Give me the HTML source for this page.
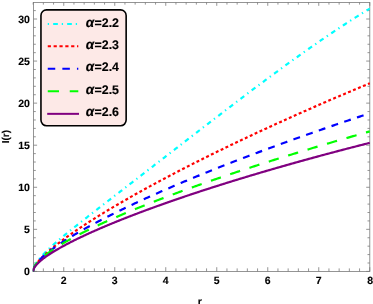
<!DOCTYPE html>
<html><head><meta charset="utf-8"><title>plot</title>
<style>
html,body{margin:0;padding:0;background:#fff;}
body{width:373px;height:304px;overflow:hidden;}
svg{display:block;filter:grayscale(0);}
text{font-family:"Liberation Sans",sans-serif;font-weight:bold;fill:#000;text-rendering:geometricPrecision;}
</style></head><body>
<svg width="373" height="304" viewBox="0 0 373 304">
<rect x="0" y="0" width="373" height="304" fill="#fff"/>
<defs><clipPath id="c"><rect x="32.8" y="2.4" width="337.5" height="269.90000000000003"/></clipPath></defs>
<g stroke="#7a7a7a" stroke-width="0.8" fill="none">
<rect x="33.5" y="2.4" width="336.3" height="269.1"/>
<path d="M33.15,271.5v-3.1M33.15,2.4v2.2M43.35,271.5v-3.1M43.35,2.4v2.2M53.55,271.5v-3.1M53.55,2.4v2.2M63.75,271.5v-4.3M63.75,2.4v3.4M73.95,271.5v-3.1M73.95,2.4v2.2M84.15,271.5v-3.1M84.15,2.4v2.2M94.35,271.5v-3.1M94.35,2.4v2.2M104.55,271.5v-3.1M104.55,2.4v2.2M114.75,271.5v-4.3M114.75,2.4v3.4M124.95,271.5v-3.1M124.95,2.4v2.2M135.15,271.5v-3.1M135.15,2.4v2.2M145.35,271.5v-3.1M145.35,2.4v2.2M155.55,271.5v-3.1M155.55,2.4v2.2M165.75,271.5v-4.3M165.75,2.4v3.4M175.95,271.5v-3.1M175.95,2.4v2.2M186.15,271.5v-3.1M186.15,2.4v2.2M196.35,271.5v-3.1M196.35,2.4v2.2M206.55,271.5v-3.1M206.55,2.4v2.2M216.75,271.5v-4.3M216.75,2.4v3.4M226.95,271.5v-3.1M226.95,2.4v2.2M237.15,271.5v-3.1M237.15,2.4v2.2M247.35,271.5v-3.1M247.35,2.4v2.2M257.55,271.5v-3.1M257.55,2.4v2.2M267.75,271.5v-4.3M267.75,2.4v3.4M277.95,271.5v-3.1M277.95,2.4v2.2M288.15,271.5v-3.1M288.15,2.4v2.2M298.35,271.5v-3.1M298.35,2.4v2.2M308.55,271.5v-3.1M308.55,2.4v2.2M318.75,271.5v-4.3M318.75,2.4v3.4M328.95,271.5v-3.1M328.95,2.4v2.2M339.15,271.5v-3.1M339.15,2.4v2.2M349.35,271.5v-3.1M349.35,2.4v2.2M359.55,271.5v-3.1M359.55,2.4v2.2M369.75,271.5v-4.3M369.75,2.4v3.4M33.5,271.40h3.6M369.8,271.40h-3.6M33.5,262.99h2.3M369.8,262.99h-2.3M33.5,254.57h2.3M369.8,254.57h-2.3M33.5,246.16h2.3M369.8,246.16h-2.3M33.5,237.75h2.3M369.8,237.75h-2.3M33.5,229.33h3.6M369.8,229.33h-3.6M33.5,220.92h2.3M369.8,220.92h-2.3M33.5,212.51h2.3M369.8,212.51h-2.3M33.5,204.10h2.3M369.8,204.10h-2.3M33.5,195.68h2.3M369.8,195.68h-2.3M33.5,187.27h3.6M369.8,187.27h-3.6M33.5,178.86h2.3M369.8,178.86h-2.3M33.5,170.44h2.3M369.8,170.44h-2.3M33.5,162.03h2.3M369.8,162.03h-2.3M33.5,153.62h2.3M369.8,153.62h-2.3M33.5,145.20h3.6M369.8,145.20h-3.6M33.5,136.79h2.3M369.8,136.79h-2.3M33.5,128.38h2.3M369.8,128.38h-2.3M33.5,119.97h2.3M369.8,119.97h-2.3M33.5,111.55h2.3M369.8,111.55h-2.3M33.5,103.14h3.6M369.8,103.14h-3.6M33.5,94.73h2.3M369.8,94.73h-2.3M33.5,86.31h2.3M369.8,86.31h-2.3M33.5,77.90h2.3M369.8,77.90h-2.3M33.5,69.49h2.3M369.8,69.49h-2.3M33.5,61.07h3.6M369.8,61.07h-3.6M33.5,52.66h2.3M369.8,52.66h-2.3M33.5,44.25h2.3M369.8,44.25h-2.3M33.5,35.84h2.3M369.8,35.84h-2.3M33.5,27.42h2.3M369.8,27.42h-2.3M33.5,19.01h3.6M369.8,19.01h-3.6M33.5,10.60h2.3M369.8,10.60h-2.3"/>
</g>
<g clip-path="url(#c)" fill="none" stroke-width="2.2" stroke-linejoin="round">
<path d="M33.15,271.40 L33.15,271.22 L33.16,271.03 L33.17,270.84 L33.18,270.66 L33.20,270.47 L33.23,270.27 L33.25,270.08 L33.28,269.88 L33.32,269.69 L33.36,269.49 L33.40,269.29 L33.45,269.08 L33.51,268.88 L33.56,268.67 L33.62,268.47 L33.69,268.26 L33.76,268.05 L33.83,267.83 L33.91,267.62 L33.99,267.40 L34.08,267.18 L34.17,266.96 L34.26,266.74 L34.36,266.52 L34.46,266.29 L34.57,266.07 L34.68,265.84 L34.80,265.61 L34.92,265.38 L35.04,265.14 L35.17,264.91 L35.30,264.67 L35.44,264.43 L35.58,264.19 L35.73,263.95 L35.88,263.70 L36.03,263.46 L36.19,263.21 L36.35,262.96 L36.52,262.71 L36.69,262.45 L36.86,262.20 L37.04,261.94 L37.22,261.68 L37.41,261.42 L37.60,261.16 L37.80,260.89 L38.00,260.63 L38.20,260.36 L38.41,260.09 L38.62,259.82 L38.84,259.54 L39.06,259.27 L39.28,258.99 L39.51,258.71 L39.75,258.43 L39.99,258.14 L40.23,257.86 L40.47,257.57 L40.72,257.28 L40.98,256.99 L41.24,256.70 L41.50,256.40 L41.77,256.11 L42.04,255.81 L42.31,255.51 L42.59,255.21 L42.88,254.90 L43.17,254.59 L43.46,254.29 L43.76,253.98 L44.06,253.66 L44.36,253.35 L44.67,253.03 L44.98,252.71 L45.30,252.39 L45.62,252.07 L45.95,251.75 L46.28,251.42 L46.61,251.09 L46.95,250.76 L47.30,250.43 L47.64,250.09 L47.99,249.75 L48.35,249.41 L48.71,249.07 L49.07,248.73 L49.44,248.38 L49.81,248.04 L50.19,247.69 L50.57,247.33 L50.96,246.98 L51.35,246.62 L51.74,246.27 L52.14,245.90 L52.54,245.54 L52.94,245.18 L53.35,244.81 L53.77,244.44 L54.19,244.07 L54.61,243.69 L55.04,243.32 L55.47,242.94 L55.90,242.56 L56.34,242.17 L56.79,241.79 L57.24,241.40 L57.69,241.01 L58.14,240.62 L58.61,240.22 L59.07,239.83 L59.54,239.43 L60.01,239.02 L60.49,238.62 L60.97,238.21 L61.46,237.80 L61.95,237.39 L62.44,236.98 L62.94,236.56 L63.44,236.14 L63.95,235.72 L64.46,235.30 L64.98,234.87 L65.50,234.44 L66.02,234.01 L66.55,233.58 L67.08,233.14 L67.62,232.70 L68.16,232.26 L68.70,231.82 L69.25,231.37 L69.81,230.92 L70.36,230.47 L70.92,230.02 L71.49,229.56 L72.06,229.10 L72.64,228.64 L73.21,228.17 L73.80,227.71 L74.38,227.24 L74.97,226.76 L75.57,226.29 L76.17,225.81 L76.77,225.33 L77.38,224.85 L77.99,224.36 L78.61,223.87 L79.23,223.38 L79.86,222.89 L80.48,222.39 L81.12,221.89 L81.76,221.39 L82.40,220.88 L83.04,220.37 L83.69,219.86 L84.35,219.35 L85.01,218.83 L85.67,218.31 L86.33,217.79 L87.01,217.27 L87.68,216.74 L88.36,216.21 L89.04,215.67 L89.73,215.14 L90.42,214.60 L91.12,214.05 L91.82,213.51 L92.53,212.96 L93.24,212.41 L93.95,211.85 L94.67,211.30 L95.39,210.74 L96.11,210.17 L96.84,209.61 L97.58,209.04 L98.32,208.47 L99.06,207.89 L99.81,207.31 L100.56,206.73 L101.31,206.15 L102.07,205.56 L102.83,204.97 L103.60,204.38 L104.37,203.78 L105.15,203.18 L105.93,202.58 L106.72,201.97 L107.50,201.36 L108.30,200.75 L109.10,200.13 L109.90,199.52 L110.70,198.89 L111.51,198.27 L112.33,197.64 L113.15,197.01 L113.97,196.38 L114.79,195.74 L115.63,195.10 L116.46,194.45 L117.30,193.81 L118.14,193.16 L118.99,192.50 L119.84,191.85 L120.70,191.19 L121.56,190.52 L122.42,189.86 L123.29,189.19 L124.17,188.51 L125.04,187.84 L125.93,187.16 L126.81,186.48 L127.70,185.79 L128.60,185.10 L129.49,184.41 L130.40,183.71 L131.30,183.01 L132.21,182.31 L133.13,181.60 L134.05,180.90 L134.97,180.18 L135.90,179.47 L136.83,178.75 L137.77,178.03 L138.71,177.30 L139.65,176.57 L140.60,175.84 L141.55,175.10 L142.51,174.37 L143.47,173.62 L144.44,172.88 L145.41,172.13 L146.38,171.38 L147.36,170.62 L148.34,169.86 L149.33,169.10 L150.32,168.34 L151.32,167.57 L152.31,166.79 L153.32,166.02 L154.33,165.24 L155.34,164.46 L156.35,163.67 L157.37,162.88 L158.40,162.09 L159.43,161.30 L160.46,160.50 L161.50,159.70 L162.54,158.89 L163.58,158.08 L164.63,157.27 L165.69,156.45 L166.75,155.64 L167.81,154.81 L168.88,153.99 L169.95,153.16 L171.02,152.33 L172.10,151.49 L173.18,150.66 L174.27,149.81 L175.36,148.97 L176.46,148.12 L177.56,147.27 L178.66,146.42 L179.77,145.56 L180.89,144.70 L182.00,143.83 L183.12,142.97 L184.25,142.10 L185.38,141.22 L186.51,140.35 L187.65,139.47 L188.79,138.58 L189.94,137.70 L191.09,136.81 L192.25,135.91 L193.41,135.02 L194.57,134.12 L195.74,133.22 L196.91,132.31 L198.08,131.41 L199.26,130.50 L200.45,129.58 L201.64,128.66 L202.83,127.74 L204.03,126.82 L205.23,125.90 L206.43,124.97 L207.64,124.04 L208.86,123.10 L210.08,122.16 L211.30,121.22 L212.52,120.28 L213.75,119.33 L214.99,118.38 L216.23,117.43 L217.47,116.48 L218.72,115.52 L219.97,114.56 L221.23,113.60 L222.49,112.63 L223.75,111.66 L225.02,110.69 L226.29,109.72 L227.57,108.74 L228.85,107.77 L230.14,106.78 L231.43,105.80 L232.72,104.81 L234.02,103.83 L235.32,102.84 L236.63,101.84 L237.94,100.85 L239.25,99.85 L240.57,98.85 L241.89,97.84 L243.22,96.84 L244.55,95.83 L245.89,94.82 L247.23,93.81 L248.57,92.80 L249.92,91.78 L251.28,90.76 L252.63,89.74 L253.99,88.72 L255.36,87.69 L256.73,86.67 L258.10,85.64 L259.48,84.61 L260.86,83.58 L262.25,82.54 L263.64,81.51 L265.03,80.47 L266.43,79.43 L267.84,78.39 L269.24,77.35 L270.65,76.30 L272.07,75.26 L273.49,74.21 L274.92,73.16 L276.34,72.11 L277.78,71.06 L279.21,70.01 L280.65,68.96 L282.10,67.90 L283.55,66.84 L285.00,65.79 L286.46,64.73 L287.92,63.67 L289.39,62.61 L290.86,61.55 L292.33,60.48 L293.81,59.42 L295.30,58.36 L296.78,57.29 L298.28,56.23 L299.77,55.16 L301.27,54.09 L302.78,53.03 L304.28,51.96 L305.80,50.89 L307.31,49.82 L308.83,48.75 L310.36,47.69 L311.89,46.62 L313.42,45.55 L314.96,44.48 L316.50,43.41 L318.05,42.34 L319.60,41.27 L321.15,40.20 L322.71,39.13 L324.28,38.06 L325.84,37.00 L327.41,35.93 L328.99,34.86 L330.57,33.79 L332.15,32.73 L333.74,31.66 L335.33,30.60 L336.93,29.54 L338.53,28.47 L340.14,27.41 L341.75,26.35 L343.36,25.29 L344.98,24.23 L346.60,23.18 L348.23,22.12 L349.86,21.07 L351.49,20.02 L353.13,18.97 L354.77,17.92 L356.42,16.87 L358.07,15.82 L359.73,14.78 L361.39,13.74 L363.05,12.70 L364.72,11.66 L366.39,10.63 L368.07,9.60 L369.75,8.57" stroke="#00ffff" stroke-dasharray="1.3 4.1 4.7 3.9" stroke-dashoffset="0"/>
<path d="M33.15,271.40 L33.15,271.25 L33.16,271.09 L33.17,270.94 L33.18,270.78 L33.20,270.62 L33.23,270.46 L33.25,270.29 L33.28,270.12 L33.32,269.96 L33.36,269.79 L33.40,269.61 L33.45,269.44 L33.51,269.26 L33.56,269.08 L33.62,268.90 L33.69,268.72 L33.76,268.53 L33.83,268.35 L33.91,268.16 L33.99,267.97 L34.08,267.78 L34.17,267.58 L34.26,267.38 L34.36,267.19 L34.46,266.99 L34.57,266.78 L34.68,266.58 L34.80,266.37 L34.92,266.16 L35.04,265.95 L35.17,265.74 L35.30,265.53 L35.44,265.31 L35.58,265.09 L35.73,264.87 L35.88,264.65 L36.03,264.43 L36.19,264.20 L36.35,263.97 L36.52,263.75 L36.69,263.51 L36.86,263.28 L37.04,263.04 L37.22,262.81 L37.41,262.57 L37.60,262.33 L37.80,262.08 L38.00,261.84 L38.20,261.59 L38.41,261.34 L38.62,261.09 L38.84,260.84 L39.06,260.59 L39.28,260.33 L39.51,260.07 L39.75,259.81 L39.99,259.55 L40.23,259.29 L40.47,259.02 L40.72,258.76 L40.98,258.49 L41.24,258.22 L41.50,257.94 L41.77,257.67 L42.04,257.39 L42.31,257.11 L42.59,256.83 L42.88,256.55 L43.17,256.27 L43.46,255.98 L43.76,255.70 L44.06,255.41 L44.36,255.12 L44.67,254.82 L44.98,254.53 L45.30,254.23 L45.62,253.93 L45.95,253.63 L46.28,253.33 L46.61,253.03 L46.95,252.72 L47.30,252.42 L47.64,252.11 L47.99,251.80 L48.35,251.49 L48.71,251.17 L49.07,250.86 L49.44,250.54 L49.81,250.22 L50.19,249.90 L50.57,249.58 L50.96,249.25 L51.35,248.92 L51.74,248.60 L52.14,248.27 L52.54,247.94 L52.94,247.60 L53.35,247.27 L53.77,246.93 L54.19,246.59 L54.61,246.25 L55.04,245.91 L55.47,245.57 L55.90,245.22 L56.34,244.88 L56.79,244.53 L57.24,244.18 L57.69,243.82 L58.14,243.47 L58.61,243.12 L59.07,242.76 L59.54,242.40 L60.01,242.04 L60.49,241.68 L60.97,241.31 L61.46,240.95 L61.95,240.58 L62.44,240.21 L62.94,239.84 L63.44,239.47 L63.95,239.10 L64.46,238.72 L64.98,238.35 L65.50,237.97 L66.02,237.59 L66.55,237.21 L67.08,236.82 L67.62,236.44 L68.16,236.05 L68.70,235.66 L69.25,235.27 L69.81,234.88 L70.36,234.49 L70.92,234.10 L71.49,233.70 L72.06,233.30 L72.64,232.90 L73.21,232.50 L73.80,232.10 L74.38,231.70 L74.97,231.29 L75.57,230.88 L76.17,230.47 L76.77,230.06 L77.38,229.65 L77.99,229.24 L78.61,228.82 L79.23,228.41 L79.86,227.99 L80.48,227.57 L81.12,227.15 L81.76,226.73 L82.40,226.30 L83.04,225.88 L83.69,225.45 L84.35,225.02 L85.01,224.59 L85.67,224.16 L86.33,223.73 L87.01,223.29 L87.68,222.85 L88.36,222.42 L89.04,221.98 L89.73,221.54 L90.42,221.09 L91.12,220.65 L91.82,220.21 L92.53,219.76 L93.24,219.31 L93.95,218.86 L94.67,218.41 L95.39,217.96 L96.11,217.50 L96.84,217.05 L97.58,216.59 L98.32,216.13 L99.06,215.67 L99.81,215.21 L100.56,214.75 L101.31,214.28 L102.07,213.82 L102.83,213.35 L103.60,212.88 L104.37,212.41 L105.15,211.94 L105.93,211.47 L106.72,210.99 L107.50,210.52 L108.30,210.04 L109.10,209.56 L109.90,209.08 L110.70,208.60 L111.51,208.12 L112.33,207.64 L113.15,207.15 L113.97,206.66 L114.79,206.18 L115.63,205.69 L116.46,205.20 L117.30,204.70 L118.14,204.21 L118.99,203.71 L119.84,203.22 L120.70,202.72 L121.56,202.22 L122.42,201.72 L123.29,201.22 L124.17,200.72 L125.04,200.21 L125.93,199.71 L126.81,199.20 L127.70,198.69 L128.60,198.18 L129.49,197.67 L130.40,197.16 L131.30,196.64 L132.21,196.13 L133.13,195.61 L134.05,195.09 L134.97,194.58 L135.90,194.06 L136.83,193.53 L137.77,193.01 L138.71,192.49 L139.65,191.96 L140.60,191.43 L141.55,190.91 L142.51,190.38 L143.47,189.85 L144.44,189.32 L145.41,188.78 L146.38,188.25 L147.36,187.71 L148.34,187.18 L149.33,186.64 L150.32,186.10 L151.32,185.56 L152.31,185.02 L153.32,184.47 L154.33,183.93 L155.34,183.38 L156.35,182.84 L157.37,182.29 L158.40,181.74 L159.43,181.19 L160.46,180.64 L161.50,180.08 L162.54,179.53 L163.58,178.97 L164.63,178.42 L165.69,177.86 L166.75,177.30 L167.81,176.74 L168.88,176.18 L169.95,175.62 L171.02,175.05 L172.10,174.49 L173.18,173.92 L174.27,173.36 L175.36,172.79 L176.46,172.22 L177.56,171.65 L178.66,171.08 L179.77,170.50 L180.89,169.93 L182.00,169.35 L183.12,168.78 L184.25,168.20 L185.38,167.62 L186.51,167.04 L187.65,166.46 L188.79,165.88 L189.94,165.30 L191.09,164.71 L192.25,164.13 L193.41,163.54 L194.57,162.95 L195.74,162.36 L196.91,161.77 L198.08,161.18 L199.26,160.59 L200.45,160.00 L201.64,159.40 L202.83,158.81 L204.03,158.21 L205.23,157.61 L206.43,157.02 L207.64,156.42 L208.86,155.82 L210.08,155.21 L211.30,154.61 L212.52,154.01 L213.75,153.40 L214.99,152.80 L216.23,152.19 L217.47,151.58 L218.72,150.97 L219.97,150.36 L221.23,149.75 L222.49,149.14 L223.75,148.53 L225.02,147.91 L226.29,147.30 L227.57,146.68 L228.85,146.06 L230.14,145.45 L231.43,144.83 L232.72,144.21 L234.02,143.58 L235.32,142.96 L236.63,142.34 L237.94,141.72 L239.25,141.09 L240.57,140.46 L241.89,139.84 L243.22,139.21 L244.55,138.58 L245.89,137.95 L247.23,137.32 L248.57,136.69 L249.92,136.05 L251.28,135.42 L252.63,134.78 L253.99,134.15 L255.36,133.51 L256.73,132.87 L258.10,132.24 L259.48,131.60 L260.86,130.96 L262.25,130.31 L263.64,129.67 L265.03,129.03 L266.43,128.38 L267.84,127.74 L269.24,127.09 L270.65,126.45 L272.07,125.80 L273.49,125.15 L274.92,124.50 L276.34,123.85 L277.78,123.20 L279.21,122.55 L280.65,121.89 L282.10,121.24 L283.55,120.58 L285.00,119.93 L286.46,119.27 L287.92,118.61 L289.39,117.95 L290.86,117.30 L292.33,116.64 L293.81,115.97 L295.30,115.31 L296.78,114.65 L298.28,113.99 L299.77,113.32 L301.27,112.66 L302.78,111.99 L304.28,111.32 L305.80,110.66 L307.31,109.99 L308.83,109.32 L310.36,108.65 L311.89,107.98 L313.42,107.31 L314.96,106.63 L316.50,105.96 L318.05,105.29 L319.60,104.61 L321.15,103.93 L322.71,103.26 L324.28,102.58 L325.84,101.90 L327.41,101.22 L328.99,100.54 L330.57,99.86 L332.15,99.18 L333.74,98.50 L335.33,97.82 L336.93,97.13 L338.53,96.45 L340.14,95.76 L341.75,95.08 L343.36,94.39 L344.98,93.71 L346.60,93.02 L348.23,92.33 L349.86,91.64 L351.49,90.95 L353.13,90.26 L354.77,89.57 L356.42,88.87 L358.07,88.18 L359.73,87.49 L361.39,86.79 L363.05,86.10 L364.72,85.40 L366.39,84.71 L368.07,84.01 L369.75,83.31" stroke="#ff0000" stroke-dasharray="2.95 2.43" stroke-dashoffset="0"/>
<path d="M33.15,271.40 L33.15,271.23 L33.16,271.07 L33.17,270.90 L33.18,270.73 L33.20,270.56 L33.23,270.39 L33.25,270.21 L33.28,270.04 L33.32,269.86 L33.36,269.68 L33.40,269.50 L33.45,269.32 L33.51,269.14 L33.56,268.95 L33.62,268.76 L33.69,268.58 L33.76,268.39 L33.83,268.20 L33.91,268.01 L33.99,267.81 L34.08,267.62 L34.17,267.42 L34.26,267.22 L34.36,267.02 L34.46,266.82 L34.57,266.62 L34.68,266.42 L34.80,266.21 L34.92,266.00 L35.04,265.80 L35.17,265.59 L35.30,265.38 L35.44,265.16 L35.58,264.95 L35.73,264.74 L35.88,264.52 L36.03,264.30 L36.19,264.08 L36.35,263.86 L36.52,263.64 L36.69,263.41 L36.86,263.19 L37.04,262.96 L37.22,262.74 L37.41,262.51 L37.60,262.28 L37.80,262.04 L38.00,261.81 L38.20,261.58 L38.41,261.34 L38.62,261.10 L38.84,260.86 L39.06,260.62 L39.28,260.38 L39.51,260.14 L39.75,259.89 L39.99,259.65 L40.23,259.40 L40.47,259.15 L40.72,258.90 L40.98,258.65 L41.24,258.40 L41.50,258.15 L41.77,257.89 L42.04,257.63 L42.31,257.38 L42.59,257.12 L42.88,256.86 L43.17,256.59 L43.46,256.33 L43.76,256.07 L44.06,255.80 L44.36,255.53 L44.67,255.26 L44.98,254.99 L45.30,254.72 L45.62,254.45 L45.95,254.18 L46.28,253.90 L46.61,253.63 L46.95,253.35 L47.30,253.07 L47.64,252.79 L47.99,252.51 L48.35,252.22 L48.71,251.94 L49.07,251.65 L49.44,251.37 L49.81,251.08 L50.19,250.79 L50.57,250.50 L50.96,250.21 L51.35,249.92 L51.74,249.62 L52.14,249.33 L52.54,249.03 L52.94,248.73 L53.35,248.43 L53.77,248.13 L54.19,247.83 L54.61,247.53 L55.04,247.22 L55.47,246.92 L55.90,246.61 L56.34,246.30 L56.79,245.99 L57.24,245.68 L57.69,245.37 L58.14,245.06 L58.61,244.74 L59.07,244.43 L59.54,244.11 L60.01,243.79 L60.49,243.47 L60.97,243.15 L61.46,242.83 L61.95,242.51 L62.44,242.19 L62.94,241.86 L63.44,241.53 L63.95,241.21 L64.46,240.88 L64.98,240.55 L65.50,240.22 L66.02,239.89 L66.55,239.55 L67.08,239.22 L67.62,238.88 L68.16,238.55 L68.70,238.21 L69.25,237.87 L69.81,237.53 L70.36,237.19 L70.92,236.84 L71.49,236.50 L72.06,236.16 L72.64,235.81 L73.21,235.46 L73.80,235.11 L74.38,234.76 L74.97,234.41 L75.57,234.06 L76.17,233.71 L76.77,233.35 L77.38,233.00 L77.99,232.64 L78.61,232.29 L79.23,231.93 L79.86,231.57 L80.48,231.21 L81.12,230.85 L81.76,230.48 L82.40,230.12 L83.04,229.75 L83.69,229.39 L84.35,229.02 L85.01,228.65 L85.67,228.28 L86.33,227.91 L87.01,227.54 L87.68,227.17 L88.36,226.79 L89.04,226.42 L89.73,226.04 L90.42,225.66 L91.12,225.29 L91.82,224.91 L92.53,224.53 L93.24,224.15 L93.95,223.76 L94.67,223.38 L95.39,222.99 L96.11,222.61 L96.84,222.22 L97.58,221.84 L98.32,221.45 L99.06,221.06 L99.81,220.67 L100.56,220.27 L101.31,219.88 L102.07,219.49 L102.83,219.09 L103.60,218.70 L104.37,218.30 L105.15,217.90 L105.93,217.50 L106.72,217.10 L107.50,216.70 L108.30,216.30 L109.10,215.90 L109.90,215.49 L110.70,215.09 L111.51,214.68 L112.33,214.28 L113.15,213.87 L113.97,213.46 L114.79,213.05 L115.63,212.64 L116.46,212.23 L117.30,211.81 L118.14,211.40 L118.99,210.98 L119.84,210.57 L120.70,210.15 L121.56,209.73 L122.42,209.31 L123.29,208.90 L124.17,208.47 L125.04,208.05 L125.93,207.63 L126.81,207.21 L127.70,206.78 L128.60,206.36 L129.49,205.93 L130.40,205.50 L131.30,205.08 L132.21,204.65 L133.13,204.22 L134.05,203.79 L134.97,203.35 L135.90,202.92 L136.83,202.49 L137.77,202.05 L138.71,201.62 L139.65,201.18 L140.60,200.74 L141.55,200.31 L142.51,199.87 L143.47,199.43 L144.44,198.99 L145.41,198.54 L146.38,198.10 L147.36,197.66 L148.34,197.21 L149.33,196.77 L150.32,196.32 L151.32,195.88 L152.31,195.43 L153.32,194.98 L154.33,194.53 L155.34,194.08 L156.35,193.63 L157.37,193.17 L158.40,192.72 L159.43,192.27 L160.46,191.81 L161.50,191.36 L162.54,190.90 L163.58,190.44 L164.63,189.98 L165.69,189.53 L166.75,189.07 L167.81,188.60 L168.88,188.14 L169.95,187.68 L171.02,187.22 L172.10,186.75 L173.18,186.29 L174.27,185.82 L175.36,185.36 L176.46,184.89 L177.56,184.42 L178.66,183.95 L179.77,183.48 L180.89,183.01 L182.00,182.54 L183.12,182.07 L184.25,181.60 L185.38,181.12 L186.51,180.65 L187.65,180.17 L188.79,179.70 L189.94,179.22 L191.09,178.74 L192.25,178.26 L193.41,177.78 L194.57,177.30 L195.74,176.82 L196.91,176.34 L198.08,175.86 L199.26,175.38 L200.45,174.89 L201.64,174.41 L202.83,173.92 L204.03,173.44 L205.23,172.95 L206.43,172.46 L207.64,171.98 L208.86,171.49 L210.08,171.00 L211.30,170.51 L212.52,170.02 L213.75,169.52 L214.99,169.03 L216.23,168.54 L217.47,168.05 L218.72,167.55 L219.97,167.05 L221.23,166.56 L222.49,166.06 L223.75,165.56 L225.02,165.07 L226.29,164.57 L227.57,164.07 L228.85,163.57 L230.14,163.07 L231.43,162.57 L232.72,162.06 L234.02,161.56 L235.32,161.06 L236.63,160.55 L237.94,160.05 L239.25,159.54 L240.57,159.03 L241.89,158.53 L243.22,158.02 L244.55,157.51 L245.89,157.00 L247.23,156.49 L248.57,155.98 L249.92,155.47 L251.28,154.96 L252.63,154.45 L253.99,153.93 L255.36,153.42 L256.73,152.91 L258.10,152.39 L259.48,151.88 L260.86,151.36 L262.25,150.84 L263.64,150.33 L265.03,149.81 L266.43,149.29 L267.84,148.77 L269.24,148.25 L270.65,147.73 L272.07,147.21 L273.49,146.69 L274.92,146.17 L276.34,145.64 L277.78,145.12 L279.21,144.60 L280.65,144.07 L282.10,143.55 L283.55,143.02 L285.00,142.49 L286.46,141.97 L287.92,141.44 L289.39,140.91 L290.86,140.38 L292.33,139.85 L293.81,139.33 L295.30,138.79 L296.78,138.26 L298.28,137.73 L299.77,137.20 L301.27,136.67 L302.78,136.14 L304.28,135.60 L305.80,135.07 L307.31,134.53 L308.83,134.00 L310.36,133.46 L311.89,132.93 L313.42,132.39 L314.96,131.85 L316.50,131.31 L318.05,130.78 L319.60,130.24 L321.15,129.70 L322.71,129.16 L324.28,128.62 L325.84,128.08 L327.41,127.53 L328.99,126.99 L330.57,126.45 L332.15,125.91 L333.74,125.36 L335.33,124.82 L336.93,124.28 L338.53,123.73 L340.14,123.19 L341.75,122.64 L343.36,122.09 L344.98,121.55 L346.60,121.00 L348.23,120.45 L349.86,119.90 L351.49,119.35 L353.13,118.81 L354.77,118.26 L356.42,117.71 L358.07,117.16 L359.73,116.60 L361.39,116.05 L363.05,115.50 L364.72,114.95 L366.39,114.40 L368.07,113.84 L369.75,113.29" stroke="#0000ff" stroke-dasharray="6.92 6.52" stroke-dashoffset="0"/>
<path d="M33.15,271.40 L33.15,271.23 L33.16,271.06 L33.17,270.88 L33.18,270.71 L33.20,270.53 L33.23,270.36 L33.25,270.18 L33.28,270.00 L33.32,269.82 L33.36,269.64 L33.40,269.45 L33.45,269.27 L33.51,269.09 L33.56,268.90 L33.62,268.71 L33.69,268.52 L33.76,268.34 L33.83,268.14 L33.91,267.95 L33.99,267.76 L34.08,267.57 L34.17,267.37 L34.26,267.17 L34.36,266.98 L34.46,266.78 L34.57,266.58 L34.68,266.38 L34.80,266.18 L34.92,265.97 L35.04,265.77 L35.17,265.56 L35.30,265.36 L35.44,265.15 L35.58,264.94 L35.73,264.73 L35.88,264.52 L36.03,264.31 L36.19,264.10 L36.35,263.88 L36.52,263.67 L36.69,263.45 L36.86,263.23 L37.04,263.02 L37.22,262.80 L37.41,262.58 L37.60,262.36 L37.80,262.13 L38.00,261.91 L38.20,261.68 L38.41,261.46 L38.62,261.23 L38.84,261.00 L39.06,260.77 L39.28,260.54 L39.51,260.31 L39.75,260.08 L39.99,259.85 L40.23,259.61 L40.47,259.38 L40.72,259.14 L40.98,258.90 L41.24,258.67 L41.50,258.43 L41.77,258.19 L42.04,257.94 L42.31,257.70 L42.59,257.46 L42.88,257.21 L43.17,256.97 L43.46,256.72 L43.76,256.47 L44.06,256.22 L44.36,255.97 L44.67,255.72 L44.98,255.47 L45.30,255.22 L45.62,254.96 L45.95,254.71 L46.28,254.45 L46.61,254.20 L46.95,253.94 L47.30,253.68 L47.64,253.42 L47.99,253.16 L48.35,252.90 L48.71,252.63 L49.07,252.37 L49.44,252.10 L49.81,251.84 L50.19,251.57 L50.57,251.30 L50.96,251.03 L51.35,250.76 L51.74,250.49 L52.14,250.22 L52.54,249.95 L52.94,249.67 L53.35,249.40 L53.77,249.12 L54.19,248.85 L54.61,248.57 L55.04,248.29 L55.47,248.01 L55.90,247.73 L56.34,247.45 L56.79,247.17 L57.24,246.88 L57.69,246.60 L58.14,246.31 L58.61,246.03 L59.07,245.74 L59.54,245.45 L60.01,245.16 L60.49,244.87 L60.97,244.58 L61.46,244.29 L61.95,244.00 L62.44,243.70 L62.94,243.41 L63.44,243.11 L63.95,242.82 L64.46,242.52 L64.98,242.22 L65.50,241.92 L66.02,241.62 L66.55,241.32 L67.08,241.02 L67.62,240.72 L68.16,240.41 L68.70,240.11 L69.25,239.80 L69.81,239.49 L70.36,239.19 L70.92,238.88 L71.49,238.57 L72.06,238.26 L72.64,237.95 L73.21,237.64 L73.80,237.32 L74.38,237.01 L74.97,236.69 L75.57,236.38 L76.17,236.06 L76.77,235.75 L77.38,235.43 L77.99,235.11 L78.61,234.79 L79.23,234.47 L79.86,234.15 L80.48,233.82 L81.12,233.50 L81.76,233.18 L82.40,232.85 L83.04,232.52 L83.69,232.20 L84.35,231.87 L85.01,231.54 L85.67,231.21 L86.33,230.88 L87.01,230.55 L87.68,230.22 L88.36,229.89 L89.04,229.55 L89.73,229.22 L90.42,228.88 L91.12,228.55 L91.82,228.21 L92.53,227.87 L93.24,227.53 L93.95,227.20 L94.67,226.86 L95.39,226.51 L96.11,226.17 L96.84,225.83 L97.58,225.49 L98.32,225.14 L99.06,224.80 L99.81,224.45 L100.56,224.10 L101.31,223.76 L102.07,223.41 L102.83,223.06 L103.60,222.71 L104.37,222.36 L105.15,222.01 L105.93,221.65 L106.72,221.30 L107.50,220.95 L108.30,220.59 L109.10,220.24 L109.90,219.88 L110.70,219.52 L111.51,219.17 L112.33,218.81 L113.15,218.45 L113.97,218.09 L114.79,217.73 L115.63,217.37 L116.46,217.00 L117.30,216.64 L118.14,216.28 L118.99,215.91 L119.84,215.55 L120.70,215.18 L121.56,214.81 L122.42,214.45 L123.29,214.08 L124.17,213.71 L125.04,213.34 L125.93,212.97 L126.81,212.60 L127.70,212.22 L128.60,211.85 L129.49,211.48 L130.40,211.10 L131.30,210.73 L132.21,210.35 L133.13,209.98 L134.05,209.60 L134.97,209.22 L135.90,208.84 L136.83,208.46 L137.77,208.08 L138.71,207.70 L139.65,207.32 L140.60,206.94 L141.55,206.55 L142.51,206.17 L143.47,205.79 L144.44,205.40 L145.41,205.02 L146.38,204.63 L147.36,204.24 L148.34,203.85 L149.33,203.47 L150.32,203.08 L151.32,202.69 L152.31,202.30 L153.32,201.90 L154.33,201.51 L155.34,201.12 L156.35,200.73 L157.37,200.33 L158.40,199.94 L159.43,199.54 L160.46,199.15 L161.50,198.75 L162.54,198.35 L163.58,197.95 L164.63,197.55 L165.69,197.16 L166.75,196.76 L167.81,196.35 L168.88,195.95 L169.95,195.55 L171.02,195.15 L172.10,194.75 L173.18,194.34 L174.27,193.94 L175.36,193.53 L176.46,193.13 L177.56,192.72 L178.66,192.31 L179.77,191.90 L180.89,191.50 L182.00,191.09 L183.12,190.68 L184.25,190.27 L185.38,189.86 L186.51,189.44 L187.65,189.03 L188.79,188.62 L189.94,188.21 L191.09,187.79 L192.25,187.38 L193.41,186.96 L194.57,186.55 L195.74,186.13 L196.91,185.71 L198.08,185.30 L199.26,184.88 L200.45,184.46 L201.64,184.04 L202.83,183.62 L204.03,183.20 L205.23,182.78 L206.43,182.36 L207.64,181.93 L208.86,181.51 L210.08,181.09 L211.30,180.66 L212.52,180.24 L213.75,179.81 L214.99,179.39 L216.23,178.96 L217.47,178.53 L218.72,178.11 L219.97,177.68 L221.23,177.25 L222.49,176.82 L223.75,176.39 L225.02,175.96 L226.29,175.53 L227.57,175.10 L228.85,174.67 L230.14,174.23 L231.43,173.80 L232.72,173.37 L234.02,172.93 L235.32,172.50 L236.63,172.06 L237.94,171.63 L239.25,171.19 L240.57,170.75 L241.89,170.32 L243.22,169.88 L244.55,169.44 L245.89,169.00 L247.23,168.56 L248.57,168.12 L249.92,167.68 L251.28,167.24 L252.63,166.80 L253.99,166.36 L255.36,165.91 L256.73,165.47 L258.10,165.03 L259.48,164.58 L260.86,164.14 L262.25,163.69 L263.64,163.25 L265.03,162.80 L266.43,162.36 L267.84,161.91 L269.24,161.46 L270.65,161.01 L272.07,160.57 L273.49,160.12 L274.92,159.67 L276.34,159.22 L277.78,158.77 L279.21,158.32 L280.65,157.86 L282.10,157.41 L283.55,156.96 L285.00,156.51 L286.46,156.05 L287.92,155.60 L289.39,155.15 L290.86,154.69 L292.33,154.24 L293.81,153.78 L295.30,153.33 L296.78,152.87 L298.28,152.41 L299.77,151.96 L301.27,151.50 L302.78,151.04 L304.28,150.58 L305.80,150.12 L307.31,149.66 L308.83,149.20 L310.36,148.74 L311.89,148.28 L313.42,147.82 L314.96,147.36 L316.50,146.90 L318.05,146.43 L319.60,145.97 L321.15,145.51 L322.71,145.04 L324.28,144.58 L325.84,144.12 L327.41,143.65 L328.99,143.19 L330.57,142.72 L332.15,142.25 L333.74,141.79 L335.33,141.32 L336.93,140.85 L338.53,140.39 L340.14,139.92 L341.75,139.45 L343.36,138.98 L344.98,138.51 L346.60,138.04 L348.23,137.57 L349.86,137.10 L351.49,136.63 L353.13,136.16 L354.77,135.69 L356.42,135.21 L358.07,134.74 L359.73,134.27 L361.39,133.80 L363.05,133.32 L364.72,132.85 L366.39,132.38 L368.07,131.90 L369.75,131.43" stroke="#00ff00" stroke-dasharray="10.45 9.85" stroke-dashoffset="0"/>
<path d="M33.15,271.40 L33.15,271.26 L33.16,271.11 L33.17,270.97 L33.18,270.82 L33.20,270.67 L33.23,270.52 L33.25,270.37 L33.28,270.22 L33.32,270.06 L33.36,269.91 L33.40,269.75 L33.45,269.60 L33.51,269.44 L33.56,269.28 L33.62,269.12 L33.69,268.96 L33.76,268.79 L33.83,268.63 L33.91,268.46 L33.99,268.30 L34.08,268.13 L34.17,267.96 L34.26,267.79 L34.36,267.62 L34.46,267.44 L34.57,267.27 L34.68,267.10 L34.80,266.92 L34.92,266.74 L35.04,266.56 L35.17,266.38 L35.30,266.20 L35.44,266.02 L35.58,265.84 L35.73,265.65 L35.88,265.47 L36.03,265.28 L36.19,265.09 L36.35,264.90 L36.52,264.71 L36.69,264.52 L36.86,264.33 L37.04,264.13 L37.22,263.94 L37.41,263.74 L37.60,263.54 L37.80,263.35 L38.00,263.15 L38.20,262.95 L38.41,262.74 L38.62,262.54 L38.84,262.34 L39.06,262.13 L39.28,261.93 L39.51,261.72 L39.75,261.51 L39.99,261.30 L40.23,261.09 L40.47,260.88 L40.72,260.66 L40.98,260.45 L41.24,260.24 L41.50,260.02 L41.77,259.80 L42.04,259.58 L42.31,259.36 L42.59,259.14 L42.88,258.92 L43.17,258.70 L43.46,258.48 L43.76,258.25 L44.06,258.02 L44.36,257.80 L44.67,257.57 L44.98,257.34 L45.30,257.11 L45.62,256.88 L45.95,256.65 L46.28,256.41 L46.61,256.18 L46.95,255.94 L47.30,255.71 L47.64,255.47 L47.99,255.23 L48.35,254.99 L48.71,254.75 L49.07,254.51 L49.44,254.27 L49.81,254.02 L50.19,253.78 L50.57,253.53 L50.96,253.29 L51.35,253.04 L51.74,252.79 L52.14,252.54 L52.54,252.29 L52.94,252.04 L53.35,251.79 L53.77,251.53 L54.19,251.28 L54.61,251.02 L55.04,250.77 L55.47,250.51 L55.90,250.25 L56.34,249.99 L56.79,249.73 L57.24,249.47 L57.69,249.21 L58.14,248.94 L58.61,248.68 L59.07,248.41 L59.54,248.15 L60.01,247.88 L60.49,247.61 L60.97,247.34 L61.46,247.07 L61.95,246.80 L62.44,246.53 L62.94,246.26 L63.44,245.98 L63.95,245.71 L64.46,245.43 L64.98,245.16 L65.50,244.88 L66.02,244.60 L66.55,244.32 L67.08,244.04 L67.62,243.76 L68.16,243.48 L68.70,243.19 L69.25,242.91 L69.81,242.63 L70.36,242.34 L70.92,242.05 L71.49,241.77 L72.06,241.48 L72.64,241.19 L73.21,240.90 L73.80,240.61 L74.38,240.32 L74.97,240.02 L75.57,239.73 L76.17,239.44 L76.77,239.14 L77.38,238.84 L77.99,238.55 L78.61,238.25 L79.23,237.95 L79.86,237.65 L80.48,237.35 L81.12,237.05 L81.76,236.75 L82.40,236.44 L83.04,236.14 L83.69,235.83 L84.35,235.53 L85.01,235.22 L85.67,234.92 L86.33,234.61 L87.01,234.30 L87.68,233.99 L88.36,233.68 L89.04,233.37 L89.73,233.06 L90.42,232.74 L91.12,232.43 L91.82,232.11 L92.53,231.80 L93.24,231.48 L93.95,231.17 L94.67,230.85 L95.39,230.53 L96.11,230.21 L96.84,229.89 L97.58,229.57 L98.32,229.25 L99.06,228.93 L99.81,228.60 L100.56,228.28 L101.31,227.95 L102.07,227.63 L102.83,227.30 L103.60,226.98 L104.37,226.65 L105.15,226.32 L105.93,225.99 L106.72,225.66 L107.50,225.33 L108.30,225.00 L109.10,224.67 L109.90,224.33 L110.70,224.00 L111.51,223.66 L112.33,223.33 L113.15,222.99 L113.97,222.66 L114.79,222.32 L115.63,221.98 L116.46,221.64 L117.30,221.30 L118.14,220.96 L118.99,220.62 L119.84,220.28 L120.70,219.94 L121.56,219.60 L122.42,219.25 L123.29,218.91 L124.17,218.56 L125.04,218.22 L125.93,217.87 L126.81,217.52 L127.70,217.18 L128.60,216.83 L129.49,216.48 L130.40,216.13 L131.30,215.78 L132.21,215.43 L133.13,215.08 L134.05,214.72 L134.97,214.37 L135.90,214.02 L136.83,213.66 L137.77,213.31 L138.71,212.95 L139.65,212.59 L140.60,212.24 L141.55,211.88 L142.51,211.52 L143.47,211.16 L144.44,210.80 L145.41,210.44 L146.38,210.08 L147.36,209.72 L148.34,209.36 L149.33,209.00 L150.32,208.63 L151.32,208.27 L152.31,207.91 L153.32,207.54 L154.33,207.17 L155.34,206.81 L156.35,206.44 L157.37,206.07 L158.40,205.71 L159.43,205.34 L160.46,204.97 L161.50,204.60 L162.54,204.23 L163.58,203.86 L164.63,203.49 L165.69,203.11 L166.75,202.74 L167.81,202.37 L168.88,201.99 L169.95,201.62 L171.02,201.25 L172.10,200.87 L173.18,200.49 L174.27,200.12 L175.36,199.74 L176.46,199.36 L177.56,198.98 L178.66,198.61 L179.77,198.23 L180.89,197.85 L182.00,197.47 L183.12,197.09 L184.25,196.70 L185.38,196.32 L186.51,195.94 L187.65,195.56 L188.79,195.17 L189.94,194.79 L191.09,194.41 L192.25,194.02 L193.41,193.64 L194.57,193.25 L195.74,192.86 L196.91,192.48 L198.08,192.09 L199.26,191.70 L200.45,191.31 L201.64,190.92 L202.83,190.53 L204.03,190.14 L205.23,189.75 L206.43,189.36 L207.64,188.97 L208.86,188.58 L210.08,188.19 L211.30,187.80 L212.52,187.40 L213.75,187.01 L214.99,186.62 L216.23,186.22 L217.47,185.83 L218.72,185.43 L219.97,185.04 L221.23,184.64 L222.49,184.24 L223.75,183.85 L225.02,183.45 L226.29,183.05 L227.57,182.65 L228.85,182.25 L230.14,181.85 L231.43,181.45 L232.72,181.05 L234.02,180.65 L235.32,180.25 L236.63,179.85 L237.94,179.45 L239.25,179.05 L240.57,178.65 L241.89,178.24 L243.22,177.84 L244.55,177.44 L245.89,177.03 L247.23,176.63 L248.57,176.22 L249.92,175.82 L251.28,175.41 L252.63,175.01 L253.99,174.60 L255.36,174.19 L256.73,173.79 L258.10,173.38 L259.48,172.97 L260.86,172.56 L262.25,172.16 L263.64,171.75 L265.03,171.34 L266.43,170.93 L267.84,170.52 L269.24,170.11 L270.65,169.70 L272.07,169.29 L273.49,168.88 L274.92,168.47 L276.34,168.05 L277.78,167.64 L279.21,167.23 L280.65,166.82 L282.10,166.40 L283.55,165.99 L285.00,165.58 L286.46,165.16 L287.92,164.75 L289.39,164.33 L290.86,163.92 L292.33,163.50 L293.81,163.09 L295.30,162.67 L296.78,162.26 L298.28,161.84 L299.77,161.42 L301.27,161.01 L302.78,160.59 L304.28,160.17 L305.80,159.76 L307.31,159.34 L308.83,158.92 L310.36,158.50 L311.89,158.08 L313.42,157.66 L314.96,157.24 L316.50,156.82 L318.05,156.41 L319.60,155.99 L321.15,155.56 L322.71,155.14 L324.28,154.72 L325.84,154.30 L327.41,153.88 L328.99,153.46 L330.57,153.04 L332.15,152.62 L333.74,152.20 L335.33,151.77 L336.93,151.35 L338.53,150.93 L340.14,150.51 L341.75,150.08 L343.36,149.66 L344.98,149.24 L346.60,148.81 L348.23,148.39 L349.86,147.96 L351.49,147.54 L353.13,147.12 L354.77,146.69 L356.42,146.27 L358.07,145.84 L359.73,145.42 L361.39,144.99 L363.05,144.57 L364.72,144.14 L366.39,143.71 L368.07,143.29 L369.75,142.86" stroke="#800080"/>
</g>
<g font-size="10.5" text-anchor="middle" stroke="#000" stroke-width="0.12">
<text x="63.75" y="283.7">2</text>
<text x="114.75" y="283.7">3</text>
<text x="165.75" y="283.7">4</text>
<text x="216.75" y="283.7">5</text>
<text x="267.75" y="283.7">6</text>
<text x="318.75" y="283.7">7</text>
<text x="370.25" y="283.7">8</text>
</g>
<g font-size="10.5" text-anchor="end" stroke="#000" stroke-width="0.12">
<text x="29.9" y="275.10">0</text>
<text x="29.9" y="233.03">5</text>
<text x="29.9" y="190.97">10</text>
<text x="29.9" y="148.90">15</text>
<text x="29.9" y="106.84">20</text>
<text x="29.9" y="64.77">25</text>
<text x="29.9" y="22.71">30</text>
</g>
<text x="199.9" y="304.5" font-size="10.5" text-anchor="middle" stroke="#000" stroke-width="0.12">r</text>
<text transform="translate(8.6,136.6) rotate(-90)" font-size="10" text-anchor="middle" stroke="#000" stroke-width="0.12">I(r)</text>
<rect x="40.95" y="9.9" width="85.2" height="115.8" rx="5.6" ry="5.6" fill="#fde9e7" stroke="#000" stroke-width="1.6"/>
<path d="M47.75,24.0H78.3" stroke="#00ffff" stroke-width="2" fill="none" stroke-dasharray="1.3 4.1 4.7 3.9"/>
<text x="85.7" y="27.2" font-size="12.4" stroke="#000" stroke-width="0.15"><tspan font-style="italic" font-size="13.6">α</tspan><tspan dx="0.4">=2.2</tspan></text>
<path d="M47.75,46.25H78.3" stroke="#ff0000" stroke-width="2" fill="none" stroke-dasharray="3.2 2.65"/>
<text x="85.7" y="49.0" font-size="12.4" stroke="#000" stroke-width="0.15"><tspan font-style="italic" font-size="13.6">α</tspan><tspan dx="0.4">=2.3</tspan></text>
<path d="M47.75,68.8H78.3" stroke="#0000ff" stroke-width="2" fill="none" stroke-dasharray="7.5 7.1"/>
<text x="85.7" y="71.4" font-size="12.4" stroke="#000" stroke-width="0.15"><tspan font-style="italic" font-size="13.6">α</tspan><tspan dx="0.4">=2.4</tspan></text>
<path d="M47.75,91.2H78.3" stroke="#00ff00" stroke-width="2" fill="none" stroke-dasharray="11.25 10.75"/>
<text x="85.7" y="93.8" font-size="12.4" stroke="#000" stroke-width="0.15"><tspan font-style="italic" font-size="13.6">α</tspan><tspan dx="0.4">=2.5</tspan></text>
<path d="M47.2,113.85H79.0" stroke="#800080" stroke-width="2" fill="none"/>
<text x="85.7" y="116.2" font-size="12.4" stroke="#000" stroke-width="0.15"><tspan font-style="italic" font-size="13.6">α</tspan><tspan dx="0.4">=2.6</tspan></text>
</svg>
</body></html>
